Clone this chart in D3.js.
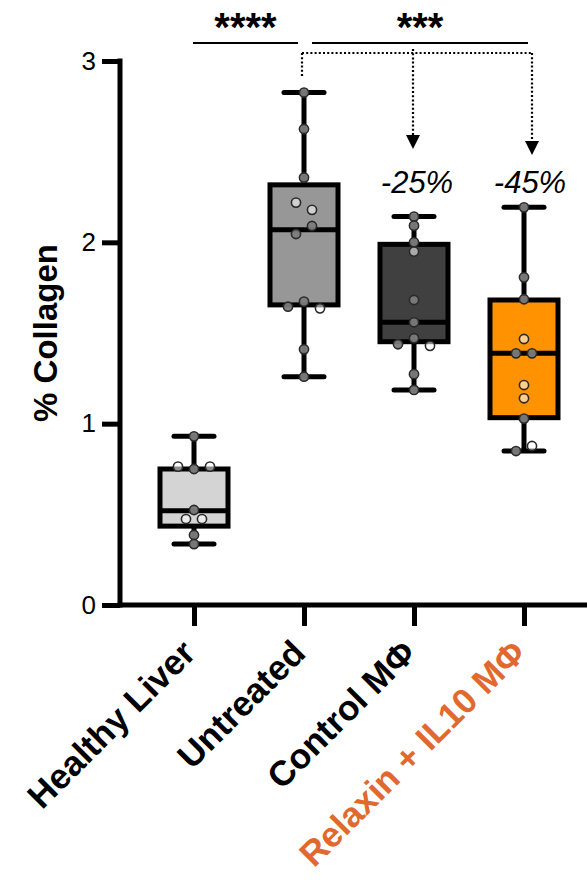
<!DOCTYPE html>
<html>
<head>
<meta charset="utf-8">
<script src="https://cdn.jsdelivr.net/npm/d3@7"></script>
<style>
  html, body { margin: 0; padding: 0; background: #fff; }
  svg { display: block; }
</style>
</head>
<body>
<svg id="chart" width="587" height="881"></svg>
<script>
// ---------- data ----------
const categories = ["Healthy Liver", "Untreated", "Control M\u03A6", "Relaxin + IL10 M\u03A6"];
const boxMin    = [0.336, 1.259, 1.186, 0.849];
const boxQ1     = [0.435, 1.655, 1.452, 1.033];
const boxMedian = [0.520, 2.070, 1.559, 1.388];
const boxQ3     = [0.750, 2.317, 1.989, 1.682];
const boxMax    = [0.930, 2.826, 2.142, 2.193];
// individual animals (value) and cohort flag (1 = open/light symbol)
const pointsHealthy   = [0.93, 0.75, 0.763, 0.763, 0.524, 0.474, 0.474, 0.386, 0.336];
const cohortHealthy   = [0, 0, 1, 1, 0, 1, 1, 0, 0];
const pointsUntreated = [2.826, 2.625, 2.357, 2.219, 2.179, 2.046, 2.09, 1.673, 1.645, 1.636, 1.41, 1.259];
const cohortUntreated = [0, 0, 0, 1, 1, 0, 0, 0, 0, 1, 0, 0];
const pointsControl   = [2.142, 2.092, 2.0, 1.949, 1.682, 1.559, 1.471, 1.438, 1.429, 1.273, 1.186];
const cohortControl   = [0, 0, 0, 1, 0, 0, 0, 0, 1, 0, 0];
const pointsRelaxin   = [2.193, 1.807, 1.686, 1.467, 1.388, 1.388, 1.213, 1.14, 1.028, 0.849, 0.877];
const cohortRelaxin   = [0, 0, 0, 1, 0, 0, 1, 1, 0, 0, 1];
const yTicks = [0, 1, 2, 3];
const yTitle = "% Collagen";
const sigLabels = ["****", "***"];
const sigFrom = [0, 1];
const sigTo = [1, 3];
const reductionLabels = ["", "", "-25%", "-45%"];

// ---------- styles ----------
const boxFill = ["#d4d4d4", "#979797", "#404040", "#ff9200"];
const labelColor = ["#000", "#000", "#000", "#e2692d"];

const svg = d3.select("#chart");
const font = "'Liberation Sans', Arial, sans-serif";

const x = d3.scalePoint().domain(categories).range([194, 524]);
const y = d3.scaleLinear().domain([0, 3]).range([605, 61]);

const AX = 120;      // y axis position
const BW = 68;       // box width
const CAP = 40;      // whisker cap width
const LW = 5;        // main line width

// ---------- axes ----------
const yAxis = svg.append("g")
  .attr("transform", `translate(${AX},0)`)
  .call(d3.axisLeft(y).tickValues(yTicks).tickFormat(d3.format("d")).tickSize(18).tickSizeOuter(0).tickPadding(6));
yAxis.select(".domain").remove();
yAxis.selectAll(".tick line").attr("stroke", "#000").attr("stroke-width", LW);
yAxis.selectAll(".tick text").attr("font-family", font).attr("font-size", 26).attr("fill", "#000");
svg.append("line")
  .attr("x1", AX).attr("x2", AX)
  .attr("y1", y(3) - LW / 2).attr("y2", y(0) + LW / 2)
  .attr("stroke", "#000").attr("stroke-width", LW);

const xAxis = svg.append("g")
  .attr("transform", `translate(0,${y(0)})`)
  .call(d3.axisBottom(x).tickSize(21).tickSizeOuter(0));
xAxis.select(".domain").remove();
xAxis.selectAll(".tick line").attr("stroke", "#000").attr("stroke-width", LW);
xAxis.selectAll(".tick text")
  .attr("font-family", font).attr("font-size", 35).attr("font-weight", "bold")
  .attr("fill", (d, i) => labelColor[i])
  .attr("text-anchor", "end")
  .attr("dy", 0).attr("y", 0)
  .attr("transform", "translate(3,50) rotate(-45)");
svg.append("line")
  .attr("x1", AX - LW / 2).attr("x2", 587)
  .attr("y1", y(0)).attr("y2", y(0))
  .attr("stroke", "#000").attr("stroke-width", LW);

// y title
svg.append("text")
  .attr("transform", `translate(57,${(y(0) + y(3)) / 2 + 0}) rotate(-90)`)
  .attr("text-anchor", "middle")
  .attr("font-family", font).attr("font-size", 33).attr("font-weight", "bold")
  .text(yTitle);

// ---------- boxes ----------
const groups = categories.map((c, i) => ({
  c, i, min: boxMin[i], q1: boxQ1[i], med: boxMedian[i], q3: boxQ3[i], max: boxMax[i]
}));
const g = svg.append("g");
groups.forEach(d => {
  const cx = x(d.c);
  g.append("line").attr("x1", cx).attr("x2", cx).attr("y1", y(d.max)).attr("y2", y(d.min))
    .attr("stroke", "#000").attr("stroke-width", LW);
  [d.max, d.min].forEach(v => {
    g.append("line").attr("x1", cx - CAP / 2).attr("x2", cx + CAP / 2).attr("y1", y(v)).attr("y2", y(v))
      .attr("stroke", "#000").attr("stroke-width", LW).attr("stroke-linecap", "round");
  });
  g.append("rect")
    .attr("x", cx - BW / 2).attr("width", BW)
    .attr("y", y(d.q3)).attr("height", y(d.q1) - y(d.q3))
    .attr("fill", boxFill[d.i]).attr("stroke", "#000").attr("stroke-width", LW);
  g.append("line").attr("x1", cx - BW / 2).attr("x2", cx + BW / 2).attr("y1", y(d.med)).attr("y2", y(d.med))
    .attr("stroke", "#000").attr("stroke-width", LW);
});

// ---------- points (simple column scatter) ----------
const allPoints = [pointsHealthy, pointsUntreated, pointsControl, pointsRelaxin];
const allCohorts = [cohortHealthy, cohortUntreated, cohortControl, cohortRelaxin];
const R = 4.6, STEP = 16, THR = 8.5;
allPoints.forEach((vals, gi) => {
  const cx = x(categories[gi]);
  const order = vals.map((v, k) => k).sort((a, b) => vals[b] - vals[a] || a - b);
  const clusters = [];
  order.forEach(k => {
    const last = clusters[clusters.length - 1];
    if (last && Math.abs(y(vals[k]) - y(vals[last[last.length - 1]])) < THR) last.push(k);
    else clusters.push([k]);
  });
  const offs = new Array(vals.length).fill(0);
  clusters.forEach(cl => {
    const m = cl.slice().sort((a, b) => a - b);
    const n = m.length;
    let pattern;
    if (n % 2 === 1) {
      pattern = [0];
      for (let s = 1; pattern.length < n; s++) { pattern.push(-s * STEP, s * STEP); }
    } else {
      pattern = [];
      for (let s = 0; pattern.length < n; s++) { pattern.push(-(s + 0.5) * STEP, (s + 0.5) * STEP); }
    }
    m.forEach((k, j) => offs[k] = pattern[j]);
  });
  vals.forEach((v, k) => {
    const light = allCohorts[gi][k] === 1;
    g.append("circle")
      .attr("cx", cx + offs[k]).attr("cy", y(v)).attr("r", R)
      .attr("fill", light ? "#ffffff" : "#7c7c7c")
      .attr("fill-opacity", light ? 0.55 : 0.95)
      .attr("stroke", "#2a2a2a").attr("stroke-width", 1.6);
  });
});

// ---------- significance ----------
const sigY = 43;
const insetL = [-1, 8], insetR = [-6, 4];
sigLabels.forEach((lab, i) => {
  const x1 = x(categories[sigFrom[i]]) + insetL[i];
  const x2 = x(categories[sigTo[i]]) + insetR[i];
  svg.append("line").attr("x1", x1).attr("x2", x2).attr("y1", sigY).attr("y2", sigY)
    .attr("stroke", "#000").attr("stroke-width", 2);
  svg.append("text").attr("x", (x1 + x2) / 2).attr("y", 41)
    .attr("text-anchor", "middle").attr("font-family", font).attr("font-weight", "bold")
    .attr("font-size", 40).text(lab);
});

// ---------- dotted reduction arrows ----------
const dotY = 53;
const srcX = x(categories[1]) - 2;
const dash = { "stroke": "#000", "stroke-width": 2.2, "stroke-dasharray": "2,2.2" };
function dotted(x1, y1, x2, y2) {
  const l = svg.append("line").attr("x1", x1).attr("y1", y1).attr("x2", x2).attr("y2", y2);
  Object.entries(dash).forEach(([k, v]) => l.attr(k, v));
}
const targets = [2, 3];
const tipY = [149, 155];
const tgtX = [x(categories[2]) - 1, x(categories[3]) + 8];
dotted(srcX, 76, srcX, dotY);
dotted(srcX, dotY, tgtX[1] + 1, dotY);
targets.forEach((t, j) => {
  const tx = tgtX[j];
  dotted(tx, dotY - (j === 0 ? 4 : 0), tx, tipY[j] - 13);
  svg.append("path")
    .attr("d", `M${tx - 7},${tipY[j] - 14} L${tx + 7},${tipY[j] - 14} L${tx},${tipY[j]} Z`)
    .attr("fill", "#000");
  svg.append("text")
    .attr("x", x(categories[t]) + (j === 0 ? 3 : 6)).attr("y", 193)
    .attr("text-anchor", "middle").attr("font-family", font).attr("font-style", "italic")
    .attr("font-size", 31).text(reductionLabels[t]);
});
</script>
</body>
</html>
